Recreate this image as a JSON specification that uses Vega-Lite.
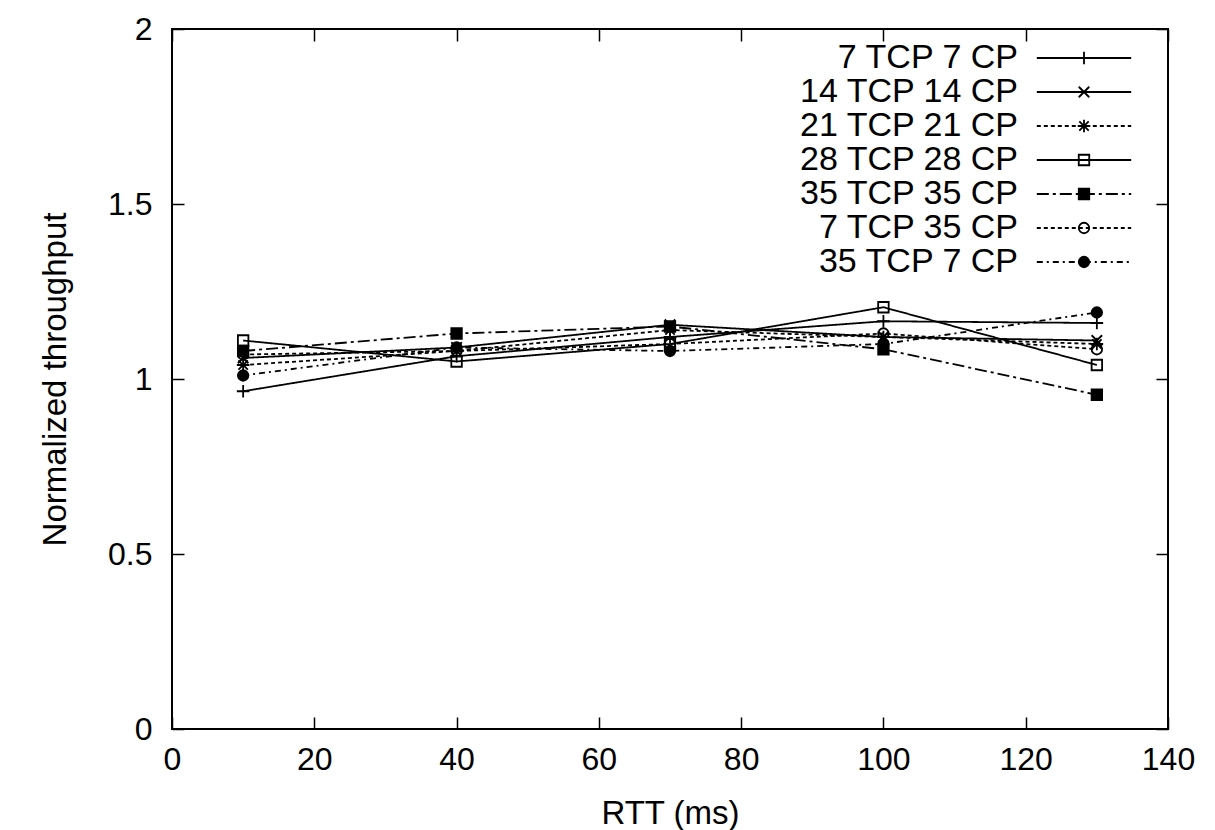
{
  "$schema": "https://vega.github.io/schema/vega-lite/v6.json",
  "width": 996,
  "height": 700,
  "autosize": {"type": "none"},
  "padding": {"left": 172, "top": 29, "right": 47, "bottom": 101},
  "background": "white",
  "config": {
    "font": "Liberation Sans",
    "view": {"stroke": "black", "strokeWidth": 2},
    "axis": {
      "grid": false,
      "domain": false,
      "tickColor": "black",
      "tickWidth": 1.5,
      "tickSize": -12,
      "labelColor": "black",
      "labelFontSize": 32,
      "labelFlush": false,
      "labelOverlap": false,
      "titleColor": "black",
      "titleFontSize": 33,
      "titleFontWeight": "normal"
    },
    "legend": {
      "title": null,
      "orient": "none",
      "legendX": 895,
      "legendY": 12,
      "padding": 0,
      "symbolSize": 110,
      "symbolStrokeColor": "black",
      "symbolStrokeWidth": 1.8,
      "labelFontSize": 34,
      "labelAlign": "right",
      "labelOffset": -83,
      "labelLimit": 400,
      "rowPadding": -1.8
    }
  },
  "data": {
    "values": [
      {"series": "7 TCP 7 CP", "rtt": 10, "throughput": 0.965},
      {"series": "7 TCP 7 CP", "rtt": 40, "throughput": 1.065},
      {"series": "7 TCP 7 CP", "rtt": 70, "throughput": 1.12},
      {"series": "7 TCP 7 CP", "rtt": 100, "throughput": 1.165},
      {"series": "7 TCP 7 CP", "rtt": 130, "throughput": 1.16},
      {"series": "14 TCP 14 CP", "rtt": 10, "throughput": 1.06},
      {"series": "14 TCP 14 CP", "rtt": 40, "throughput": 1.09},
      {"series": "14 TCP 14 CP", "rtt": 70, "throughput": 1.155},
      {"series": "14 TCP 14 CP", "rtt": 100, "throughput": 1.12},
      {"series": "14 TCP 14 CP", "rtt": 130, "throughput": 1.11},
      {"series": "21 TCP 21 CP", "rtt": 10, "throughput": 1.04},
      {"series": "21 TCP 21 CP", "rtt": 40, "throughput": 1.08},
      {"series": "21 TCP 21 CP", "rtt": 70, "throughput": 1.14},
      {"series": "21 TCP 21 CP", "rtt": 100, "throughput": 1.12},
      {"series": "21 TCP 21 CP", "rtt": 130, "throughput": 1.1},
      {"series": "28 TCP 28 CP", "rtt": 10, "throughput": 1.11},
      {"series": "28 TCP 28 CP", "rtt": 40, "throughput": 1.05},
      {"series": "28 TCP 28 CP", "rtt": 70, "throughput": 1.1},
      {"series": "28 TCP 28 CP", "rtt": 100, "throughput": 1.205},
      {"series": "28 TCP 28 CP", "rtt": 130, "throughput": 1.04},
      {"series": "35 TCP 35 CP", "rtt": 10, "throughput": 1.08},
      {"series": "35 TCP 35 CP", "rtt": 40, "throughput": 1.13},
      {"series": "35 TCP 35 CP", "rtt": 70, "throughput": 1.15},
      {"series": "35 TCP 35 CP", "rtt": 100, "throughput": 1.085},
      {"series": "35 TCP 35 CP", "rtt": 130, "throughput": 0.955},
      {"series": "7 TCP 35 CP", "rtt": 10, "throughput": 1.07},
      {"series": "7 TCP 35 CP", "rtt": 40, "throughput": 1.08},
      {"series": "7 TCP 35 CP", "rtt": 70, "throughput": 1.1},
      {"series": "7 TCP 35 CP", "rtt": 100, "throughput": 1.13},
      {"series": "7 TCP 35 CP", "rtt": 130, "throughput": 1.085},
      {"series": "35 TCP 7 CP", "rtt": 10, "throughput": 1.01},
      {"series": "35 TCP 7 CP", "rtt": 40, "throughput": 1.09},
      {"series": "35 TCP 7 CP", "rtt": 70, "throughput": 1.08},
      {"series": "35 TCP 7 CP", "rtt": 100, "throughput": 1.1},
      {"series": "35 TCP 7 CP", "rtt": 130, "throughput": 1.19}
    ]
  },
  "layer": [
    {
      "mark": {"type": "line", "color": "black", "strokeWidth": 1.8},
      "encoding": {
        "x": {
          "field": "rtt", "type": "quantitative",
          "scale": {"domain": [0, 140], "nice": false, "zero": false},
          "axis": {
            "orient": "bottom", "values": [0, 20, 40, 60, 80, 100, 120, 140],
            "labelPadding": 27, "title": "RTT (ms)", "titlePadding": 22
          }
        },
        "y": {
          "field": "throughput", "type": "quantitative",
          "scale": {"domain": [0, 2], "nice": false, "zero": false},
          "axis": {
            "orient": "left", "values": [0, 0.5, 1, 1.5, 2], "format": "~g",
            "labelPadding": 32, "title": "Normalized throughput", "titlePadding": 35
          }
        },
        "strokeDash": {
          "field": "series", "type": "nominal",
          "scale": {
            "domain": ["7 TCP 7 CP", "14 TCP 14 CP", "21 TCP 21 CP", "28 TCP 28 CP", "35 TCP 35 CP", "7 TCP 35 CP", "35 TCP 7 CP"],
            "range": [[1, 0], [1, 0], [4, 3], [1, 0], [12, 4, 3, 4], [4, 3], [6, 4, 2, 4]]
          },
          "legend": {
            "symbolType": "M-9,0L9,0",
            "symbolFillColor": "transparent",
            "labelColor": "black"
          }
        }
      }
    },
    {
      "mark": {"type": "point", "size": 110, "strokeWidth": 1.8, "opacity": 1, "stroke": "black"},
      "encoding": {
        "x": {
          "field": "rtt", "type": "quantitative",
          "axis": {"orient": "top", "values": [0, 20, 40, 60, 80, 100, 120, 140], "labels": false, "title": null}
        },
        "y": {
          "field": "throughput", "type": "quantitative",
          "axis": {"orient": "right", "values": [0, 0.5, 1, 1.5, 2], "labels": false, "title": null}
        },
        "shape": {
          "field": "series", "type": "nominal",
          "scale": {
            "domain": ["35 TCP 7 CP", "7 TCP 35 CP", "35 TCP 35 CP", "28 TCP 28 CP", "21 TCP 21 CP", "14 TCP 14 CP", "7 TCP 7 CP"],
            "range": [
              "M1,0A1,1,0,1,1,-1,0A1,1,0,1,1,1,0Z",
              "M1,0A1,1,0,1,1,-1,0A1,1,0,1,1,1,0Z",
              "M-1,-1H1V1H-1Z",
              "M-1,-1H1V1H-1Z",
              "M-1.2,0H1.2M0,-1.2V1.2M-0.9,-0.9L0.9,0.9M-0.9,0.9L0.9,-0.9",
              "M-1,-1L1,1M-1,1L1,-1",
              "M-1.2,0H1.2M0,-1.2V1.2"
            ]
          },
          "legend": {
            "values": ["7 TCP 7 CP", "14 TCP 14 CP", "21 TCP 21 CP", "28 TCP 28 CP", "35 TCP 35 CP", "7 TCP 35 CP", "35 TCP 7 CP"],
            "labelExpr": "'\u00a0'",
            "labelAlign": "left",
            "labelOffset": 4,
            "labelColor": "transparent",
            "symbolOpacity": 1,
            "encode": {
              "symbols": {
                "update": {
                  "stroke": {"value": "black"},
                  "strokeWidth": {"value": 1.8},
                  "strokeOpacity": {"value": 1},
                  "opacity": {"value": 1}
                }
              }
            }
          }
        },
        "fill": {
          "field": "series", "type": "nominal",
          "scale": {
            "domain": ["35 TCP 7 CP", "7 TCP 35 CP", "35 TCP 35 CP", "28 TCP 28 CP", "21 TCP 21 CP", "14 TCP 14 CP", "7 TCP 7 CP"],
            "range": ["black", "transparent", "black", "transparent", "transparent", "transparent", "transparent"]
          },
          "legend": {
            "values": ["7 TCP 7 CP", "14 TCP 14 CP", "21 TCP 21 CP", "28 TCP 28 CP", "35 TCP 35 CP", "7 TCP 35 CP", "35 TCP 7 CP"],
            "labelExpr": "'\u00a0'",
            "labelAlign": "left",
            "labelOffset": 4,
            "labelColor": "transparent",
            "symbolOpacity": 1,
            "encode": {
              "symbols": {
                "update": {
                  "stroke": {"value": "black"},
                  "strokeWidth": {"value": 1.8},
                  "strokeOpacity": {"value": 1},
                  "opacity": {"value": 1}
                }
              }
            }
          }
        }
      }
    }
  ],
  "resolve": {"axis": {"x": "independent", "y": "independent"}}
}
